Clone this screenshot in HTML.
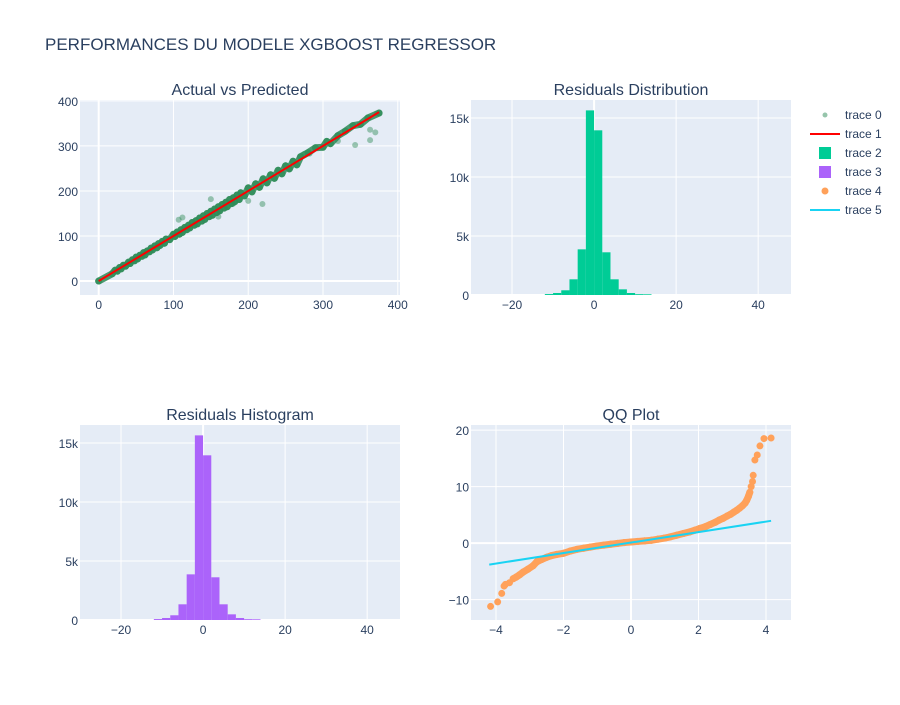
<!DOCTYPE html>
<html><head><meta charset="utf-8"><style>
body{margin:0;background:#fff;}
svg text{font-family:"Liberation Sans",sans-serif;fill:#2a3f5f;}
</style></head><body>
<svg id="c" width="900" height="700" xmlns="http://www.w3.org/2000/svg"></svg>
<script>
// ---- data ----
const actual = [0,18,22,25,28,30,33,36,40,42,45,48,50,52,55,58,60,62,65,68,70,72,75,78,80,82,85,88,90,95,100,102,105,108,110,112,115,118,120,122,125,128,130,132,135,138,140,142,145,148,150,152,155,158,160,162,165,168,170,172,175,178,180,182,185,188,190,195,200,205,210,215,220,225,230,235,240,245,250,255,260,265,270,280,290,300,305,310,320,330,340,350,360,375,107,112,150,160,180,200,219,275,282,320,343,363,363,370,372];
const predicted = [0,16,24,22,30,27,35,33,42,39,47,45,53,49,57,55,63,58,67,65,73,69,78,74,83,79,88,84,93,92,104,99,109,104,114,108,119,114,124,118,130,124,134,127,140,133,145,137,150,143,155,146,160,152,165,156,170,162,175,165,181,172,185,176,191,181,196,189,207,198,216,208,227,218,236,228,246,238,256,249,266,258,276,285,296,297,310,305,323,333,345,348,362,373,136,141,182,143,172,178,171,282,283,311,302,313,336,330,372];
const histCenters = [-11,-9,-7,-5,-3,-1,1,3,5,7,9,11,13];
const histCounts = [80,170,400,1330,3870,15650,13960,3620,1330,480,170,70,60];
const qqTheo = [-4.16,-3.95,-3.83,-3.76,-3.72,-3.6,-3.49,-3.4,-3.3,-3.19,-3.05,-2.9,-2.79,-2.65,-2.5,-2.35,-2.2,-2.0,-1.8,-1.6,-1.4,-1.2,-1.0,-0.8,-0.6,-0.4,-0.2,0,0.2,0.4,0.6,0.8,1.0,1.16,1.35,1.55,1.75,1.9,2.04,2.2,2.35,2.5,2.62,2.73,2.85,2.95,3.05,3.13,3.22,3.3,3.38,3.43,3.48,3.52,3.56,3.6,3.62,3.67,3.74,3.82,3.94,4.15];
const qqSample = [-11.2,-10.4,-8.9,-7.6,-7.3,-7.0,-6.3,-6.0,-5.6,-5.1,-4.6,-4.0,-3.3,-2.9,-2.5,-2.2,-2.0,-1.8,-1.4,-1.1,-0.9,-0.7,-0.5,-0.35,-0.2,-0.05,0.1,0.2,0.3,0.4,0.5,0.7,0.9,1.1,1.4,1.7,2.0,2.3,2.6,2.9,3.3,3.7,4.1,4.4,4.8,5.1,5.5,5.8,6.2,6.6,7.1,7.6,8.3,9.0,10.0,10.9,12.0,14.7,15.6,17.2,18.5,18.6];
const qqLineX = [-4.2,4.15];
const qqLineY = [-3.8,3.95];
const tickA = [0,100,200,300,400];
const tickHX = [-20,0,20,40];
const tickHY = [0,5000,10000,15000];
const tickHYL = ['0','5k','10k','15k'];
const tickQX = [-4,-2,0,2,4];
const tickQY = [-10,0,10,20];

const svg = document.getElementById('c');
const NS='http://www.w3.org/2000/svg';
function el(tag,attrs,parent){const e=document.createElementNS(NS,tag);for(const k in attrs)e.setAttribute(k,attrs[k]);(parent||svg).appendChild(e);return e;}
function lin(d0,d1,r0,r1){return v=>r0+(v-d0)*(r1-r0)/(d1-d0);}

let t=el('text',{x:45,y:50,'font-size':17});t.textContent='PERFORMANCES DU MODELE XGBOOST REGRESSOR';


function panel(name,x0,y0,w,h,title,sx,sy,xt,xtl,yt,ytl,showXGrid){
  const g=el('g',{});
  
  el('rect',{x:x0,y:y0,width:w,height:h,fill:'#e5ecf6'},g);
  xt.forEach((v,i)=>{const px=sx(v);
    if(showXGrid) el('line',{x1:px,x2:px,y1:y0,y2:y0+h,stroke:'#fff','stroke-width':v===0?2:1},g);
    const tx=el('text',{x:px,y:y0+h+14,'font-size':12,'text-anchor':'middle'},g);tx.textContent=xtl[i];
    });
  yt.forEach((v,i)=>{const py=sy(v);
    el('line',{x1:x0,x2:x0+w,y1:py,y2:py,stroke:'#fff','stroke-width':v===0?2:1},g);
    const tx=el('text',{x:x0-2,y:py+5,'font-size':12,'text-anchor':'end'},g);tx.textContent=ytl[i];
    });
  const tt=el('text',{x:x0+w/2,y:y0-5,'font-size':16,'text-anchor':'middle'},g);tt.textContent=title;
  
  return g;
}
const fmtM=v=>v<0?'\u2212'+(-v):''+v;

// Panel 1
const sx1=lin(-25,403,80,400), sy1=lin(-31,402,295,100);
const g1=panel('actual-vs-predicted',80,100,320,195,'Actual vs Predicted',sx1,sy1,tickA,tickA.map(String),tickA,tickA.map(String),true);
const bandPts=actual.slice(0,94).map((a,i)=>sx1(a)+','+sy1(predicted[i])).join(' ');
const band=el('polyline',{points:bandPts,fill:'none',stroke:'#2e8b57','stroke-width':7,'stroke-opacity':0.85,'stroke-linejoin':'round','stroke-linecap':'round'},g1);

actual.forEach((a,i)=>{const c=el('circle',{cx:sx1(a),cy:sy1(predicted[i]),r:i<94?3.5:3,fill:'#2e8b57','fill-opacity':i<94?0.7:0.45},g1);
  });
const l1=el('line',{x1:sx1(0),y1:sy1(0),x2:sx1(375),y2:sy1(375),stroke:'#ff0000','stroke-width':2},g1);


// Histograms
function hist(name,y0,title,color){
  const off=name==='residuals-histogram'?391:0;
  const sx=lin(-30,48,471-off,791-off);
  const x0=471-off;
  const sy=lin(0,16530,y0+195,y0);
  const g=panel(name,x0,y0,320,195,title,sx,sy,tickHX,tickHX.map(fmtM),tickHY,tickHYL,true);
  histCenters.forEach((c,i)=>{const xa=sx(c-1),xb=sx(c+1);
    const r=el('rect',{x:xa,y:sy(histCounts[i]),width:xb-xa,height:sy(0)-sy(histCounts[i]),fill:color},g);
    });
}
hist('residuals-distribution',100,'Residuals Distribution','#00cc96');
hist('residuals-histogram',425,'Residuals Histogram','#ab63fa');

// QQ
const sxq=lin(-4.74,4.74,471,791), syq=lin(-13.6,20.9,620,425);
const g4=panel('qq-plot',471,425,320,195,'QQ Plot',sxq,syq,tickQX,tickQX.map(fmtM),tickQY,tickQY.map(fmtM),true);
qqTheo.forEach((x,i)=>{const c=el('circle',{cx:sxq(x),cy:syq(qqSample[i]),r:3.5,fill:'#ffa15a'},g4);
  });
for(let i=0;i<qqTheo.length-1;i++){if(qqTheo[i]>-3.6&&qqTheo[i+1]<3.55){
  const p=el('line',{x1:sxq(qqTheo[i]),y1:syq(qqSample[i]),x2:sxq(qqTheo[i+1]),y2:syq(qqSample[i+1]),stroke:'#ffa15a','stroke-width':7,'stroke-linecap':'round'},g4);
  }}
const ql=el('line',{x1:sxq(qqLineX[0]),y1:syq(qqLineY[0]),x2:sxq(qqLineX[1]),y2:syq(qqLineY[1]),stroke:'#19d3f3','stroke-width':2},g4);


// Legend
const lg=el('g',{});
const items=[['dot','#2e8b57',0.5],['line','#ff0000'],['sq','#00cc96'],['sq','#ab63fa'],['dot','#ffa15a',1],['line','#19d3f3']];
items.forEach((it,i)=>{const y=115+i*19;
  const e=el('g',{},lg);
  if(it[0]==='dot')el('circle',{cx:825,cy:y,r:it[2]<1?2.5:3.5,fill:it[1],'fill-opacity':it[2]},e);
  else if(it[0]==='line')el('line',{x1:810,x2:840,y1:y,y2:y,stroke:it[1],'stroke-width':2},e);
  else el('rect',{x:819,y:y-6,width:12,height:12,fill:it[1]},e);
  const tx=el('text',{x:845,y:y+4,'font-size':12},e);tx.textContent='trace '+i;});
</script>
</body></html>
